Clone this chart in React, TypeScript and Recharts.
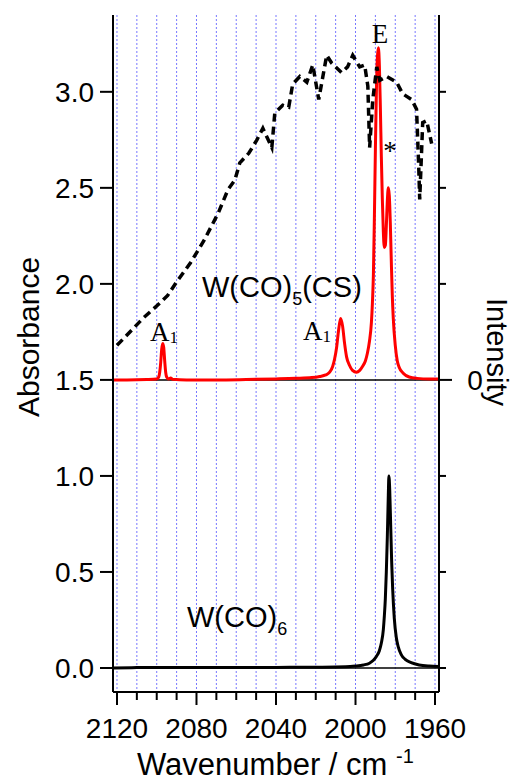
import { LineChart, Line, XAxis, YAxis, CartesianGrid, ReferenceLine } from 'recharts';

const SANS = "Arial, 'Liberation Sans', Helvetica, sans-serif";
const SERIF = "'Times New Roman', 'Liberation Serif', Times, serif";

// axis ticks
const xTicks = [2120, 2110, 2100, 2090, 2080, 2070, 2060, 2050, 2040, 2030, 2020, 2010, 2000, 1990, 1980, 1970, 1960];
const absTicks = [0, 0.5, 1, 1.5, 2, 2.5, 3];
const intensityTicks = [-1.5, -1, -0.5, 0, 0.5, 1, 1.5];

// W(CO)5(CS) IR absorbance (plotted with +1.5 offset)
const csWavenumber = [
  2122, 2115, 2105, 2100, 2099, 2098.5, 2098, 2097.5, 2097, 2096.5, 2096, 2095.5, 2095, 2094, 2093, 2092,
  2085, 2070, 2055, 2040, 2030, 2022, 2018, 2015, 2013, 2011.5, 2010.5, 2009.5, 2008.5, 2007.5, 2006.5,
  2005.5, 2004.5, 2003, 2001.5, 1999.5, 1998, 1996.5, 1995, 1994, 1993, 1992, 1991.5, 1991, 1990.5, 1990,
  1989.5, 1989, 1988.5, 1988, 1987.5, 1987, 1986.5, 1986, 1985.5, 1985, 1984.5, 1984, 1983.5, 1983,
  1982.5, 1982, 1981.5, 1981, 1980, 1979, 1978, 1976, 1973, 1969, 1963, 1958,
];
const csAbsorbance = [
  1.5, 1.5, 1.502, 1.505, 1.515, 1.54, 1.59, 1.66, 1.69, 1.67, 1.6, 1.54, 1.515, 1.505, 1.51, 1.503,
  1.5, 1.5, 1.502, 1.505, 1.508, 1.512, 1.518, 1.526, 1.54, 1.57, 1.61, 1.67, 1.76, 1.82, 1.78,
  1.69, 1.62, 1.575, 1.55, 1.54, 1.548, 1.57, 1.6, 1.64, 1.7, 1.8, 1.9, 2.05, 2.35, 2.7,
  3.0, 3.18, 3.23, 3.14, 2.92, 2.66, 2.44, 2.27, 2.19, 2.2, 2.3, 2.43, 2.5, 2.46,
  2.32, 2.12, 1.94, 1.82, 1.68, 1.6, 1.565, 1.535, 1.515, 1.508, 1.505, 1.505,
];

// W(CO)6 IR absorbance
const hexWavenumber = [
  2122, 2110, 2090, 2060, 2040, 2020, 2005, 2000, 1996, 1993, 1991, 1989.5, 1988, 1987, 1986, 1985.5,
  1985, 1984.5, 1984, 1983.5, 1983.2, 1982.8, 1982.3, 1981.8, 1981.3, 1980.5, 1979.5, 1978.5, 1977,
  1975, 1972, 1968, 1963, 1958,
];
const hexAbsorbance = [
  0, 0.002, 0.003, 0.002, 0.003, 0.004, 0.006, 0.01, 0.016, 0.025, 0.04, 0.06, 0.09, 0.13, 0.2, 0.27,
  0.36, 0.5, 0.68, 0.9, 1.0, 0.93, 0.74, 0.55, 0.41, 0.26, 0.16, 0.11, 0.07,
  0.045, 0.028, 0.016, 0.01, 0.008,
];

// laser intensity profile (right axis)
const laserWavenumber = [
  2120, 2112.5, 2107, 2099.5, 2094.5, 2090, 2083, 2076, 2069, 2064.2, 2060.7, 2058.2, 2053.7, 2049.6,
  2046.6, 2042.1, 2040.6, 2036.6, 2033.6, 2031.6, 2028, 2024.5, 2021.5, 2018.5, 2014.5, 2012, 2007,
  2004, 2001.4, 1997.9, 1995.4, 1993.8, 1992.9, 1991.3, 1989.3, 1987.8, 1984.3, 1979.3, 1976.3, 1971.8,
  1969.3, 1968.2, 1967.7, 1966.2, 1964.2, 1961.7,
];
const laserIntensity = [
  0.18, 0.26, 0.32, 0.39, 0.44, 0.51, 0.61, 0.73, 0.87, 0.99, 1.04, 1.13, 1.18, 1.25,
  1.31, 1.21, 1.39, 1.43, 1.42, 1.54, 1.58, 1.55, 1.64, 1.46, 1.69, 1.65, 1.6,
  1.63, 1.69, 1.63, 1.64, 1.53, 1.21, 1.46, 1.63, 1.56, 1.58, 1.55, 1.49, 1.46,
  1.41, 1.11, 0.94, 1.34, 1.35, 1.23,
];

const csData = csWavenumber.map((w, i) => ({ w, a: csAbsorbance[i] }));
const hexData = hexWavenumber.map((w, i) => ({ w, a: hexAbsorbance[i] }));
const laserData = laserWavenumber.map((w, i) => ({ w, v: laserIntensity[i] }));

function XTick(props: any) {
  const { x, y, payload } = props;
  const v = payload.value;
  const major = v % 40 === 0;
  return (
    <g>
      <line x1={x} x2={x} y1={y} y2={y + (major ? 13 : 8)} stroke="#000" strokeWidth={2} />
      {major && (
        <text x={x} y={y + 46} textAnchor="middle" fontSize={28} fontFamily={SANS} fill="#000">
          {v}
        </text>
      )}
    </g>
  );
}

function RightTick(props: any) {
  const { x, y, payload } = props;
  const zero = payload.value === 0;
  return (
    <g>
      <line x1={x} x2={x + (zero ? 13 : 7)} y1={y} y2={y} stroke="#000" strokeWidth={2} />
      {zero && (
        <text x={475} y={y + 10} textAnchor="middle" fontSize={28} fontFamily={SANS} fill="#000">
          0
        </text>
      )}
    </g>
  );
}

export default function App() {
  return (
    <div style={{ position: 'relative', width: 515, height: 783, background: '#fff' }}>
      <style>{'body{margin:0;background:#fff}'}</style>
      <LineChart width={515} height={783} margin={{ top: 15, right: 0, bottom: 0, left: 0 }}>
        <CartesianGrid
          yAxisId="abs"
          horizontal={false}
          stroke="#7878ff"
          strokeDasharray="2 2"
          strokeWidth={1}
        />
        <XAxis
          type="number"
          dataKey="w"
          domain={[1958, 2122]}
          reversed
          allowDataOverflow
          ticks={xTicks}
          interval={0}
          height={91}
          tickSize={0}
          tickMargin={0}
          tick={<XTick />}
          axisLine={{ stroke: '#000', strokeWidth: 2 }}
        />
        <YAxis
          yAxisId="abs"
          width={113}
          domain={[-0.125, 3.4]}
          allowDataOverflow
          ticks={absTicks}
          interval={0}
          tickSize={13}
          tickMargin={6}
          tickFormatter={(v) => v.toFixed(1)}
          tick={{ fontSize: 28, fill: '#000', fontFamily: SANS }}
          axisLine={{ stroke: '#000', strokeWidth: 2 }}
          tickLine={{ stroke: '#000', strokeWidth: 2 }}
        />
        <YAxis
          yAxisId="int"
          orientation="right"
          width={76}
          domain={[-1.625, 1.9]}
          allowDataOverflow
          ticks={intensityTicks}
          interval={0}
          tickSize={0}
          tickMargin={0}
          tick={<RightTick />}
          axisLine={{ stroke: '#000', strokeWidth: 2 }}
        />
        <ReferenceLine yAxisId="abs" y={0} stroke="#000" strokeWidth={1.5} />
        <ReferenceLine yAxisId="abs" y={1.5} stroke="#000" strokeWidth={1.5} />
        <Line
          yAxisId="abs"
          data={hexData}
          dataKey="a"
          type="monotone"
          stroke="#000"
          strokeWidth={3}
          dot={false}
          isAnimationActive={false}
        />
        <Line
          yAxisId="abs"
          data={csData}
          dataKey="a"
          type="monotone"
          stroke="#ff0000"
          strokeWidth={3}
          dot={false}
          isAnimationActive={false}
        />
        <Line
          yAxisId="int"
          data={laserData}
          dataKey="v"
          type="linear"
          stroke="#000"
          strokeWidth={3.5}
          strokeDasharray="8 5"
          dot={false}
          isAnimationActive={false}
        />
      </LineChart>
      <svg
        width={515}
        height={783}
        style={{ position: 'absolute', left: 0, top: 0, pointerEvents: 'none' }}
      >
        <text transform="translate(39,337) rotate(-90)" textAnchor="middle" fontSize={30} fontFamily={SANS}>
          Absorbance
        </text>
        <text transform="translate(487,352) rotate(90)" textAnchor="middle" fontSize={29} fontFamily={SANS}>
          Intensity
        </text>
        <text x={137} y={775} fontSize={31} fontFamily={SANS}>
          Wavenumber / cm
        </text>
        <text x={396} y={763} fontSize={20} fontFamily={SANS}>
          -1
        </text>
        <text x={202} y={297} fontSize={29} fontFamily={SANS}>
          W(CO)<tspan fontSize={18} dy={8}>5</tspan>
          <tspan dy={-8}>(CS)</tspan>
        </text>
        <text x={187} y={627} fontSize={29} fontFamily={SANS}>
          W(CO)<tspan fontSize={18} dy={8}>6</tspan>
        </text>
        <text x={150} y={341} fontSize={27} fontFamily={SERIF}>
          A<tspan fontSize={17} dy={2}>1</tspan>
        </text>
        <text x={303} y={340} fontSize={27} fontFamily={SERIF}>
          A<tspan fontSize={17} dy={2}>1</tspan>
        </text>
        <text x={380} y={43} textAnchor="middle" fontSize={27} fontFamily={SERIF}>
          E
        </text>
        <text x={390} y={160} textAnchor="middle" fontSize={27} fontFamily={SERIF}>
          *
        </text>
      </svg>
    </div>
  );
}
